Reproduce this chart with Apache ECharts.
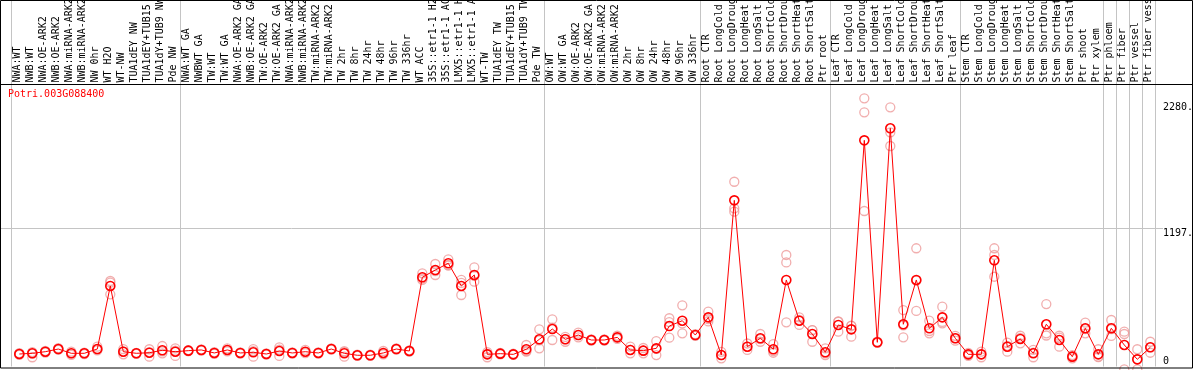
<!DOCTYPE html>
<html>
<head>
<meta charset="utf-8">
<script src="https://cdn.jsdelivr.net/npm/echarts@6/dist/echarts.min.js"></script>
<style>
  html, body { margin: 0; padding: 0; background: #fff; }
  #chart { width: 1194px; height: 370px; }
</style>
</head>
<body>
<div id="chart"></div>
<script>
var geneId = 'Potri.003G088400';

var samples = [
  'NWA:WT', 'NWB:WT', 'NWA:OE-ARK2', 'NWB:OE-ARK2', 'NWA:miRNA-ARK2', 'NWB:miRNA-ARK2',
  'NW 0hr', 'WT H2O', 'WT-NW', 'TUA1dEY NW', 'TUA1dEY+TUB15 NW', 'TUA1dY+TUB9 NW', 'Pde NW',
  'NWA:WT GA', 'NWBWT GA', 'TW:WT', 'TW:WT GA', 'NWA:OE-ARK2 GA', 'NWB:OE-ARK2 GA',
  'TW:OE-ARK2', 'TW:OE-ARK2 GA', 'NWA:miRNA-ARK2 GA', 'NWB:miRNA-ARK2 GA', 'TW:miRNA-ARK2',
  'TW:miRNA-ARK2 GA', 'TW 2hr', 'TW 8hr', 'TW 24hr', 'TW 48hr', 'TW 96hr', 'TW 336hr',
  'WT ACC', '35S::etr1-1 H2O', '35S::etr1-1 ACC', 'LMX5::etr1-1 H2O', 'LMX5::etr1-1 ACC',
  'WT-TW', 'TUA1dEY TW', 'TUA1dEY+TUB15 TW', 'TUA1dY+TUB9 TW', 'Pde TW',
  'OW:WT', 'OW:WT GA', 'OW:OE-ARK2', 'OW:OE-ARK2 GA', 'OW:miRNA-ARK2', 'OW:miRNA-ARK2 GA',
  'OW 2hr', 'OW 8hr', 'OW 24hr', 'OW 48hr', 'OW 96hr', 'OW 336hr',
  'Root CTR', 'Root LongCold', 'Root LongDrought', 'Root LongHeat', 'Root LongSalt',
  'Root ShortCold', 'Root ShortDrought', 'Root ShortHeat', 'Root ShortSalt', 'Ptr root',
  'Leaf CTR', 'Leaf LongCold', 'Leaf LongDrought', 'Leaf LongHeat', 'Leaf LongSalt',
  'Leaf ShortCold', 'Leaf ShortDrought', 'Leaf ShortHeat', 'Leaf ShortSalt', 'Ptr leaf',
  'Stem CTR', 'Stem LongCold', 'Stem LongDrought', 'Stem LongHeat', 'Stem LongSalt',
  'Stem ShortCold', 'Stem ShortDrought', 'Stem ShortHeat', 'Stem ShortSalt', 'Ptr shoot',
  'Ptr xylem', 'Ptr phloem', 'Ptr fiber', 'Ptr vessel', 'Ptr fiber vessel'
];

// index of the first sample of each group (last entry = end of the last group)
var groupStarts = [0, 13, 41, 53, 63, 73, 84, 85, 86, 87, 88];

var meanValues = [
  108, 114, 128, 151, 114, 114, 151, 696, 128, 114, 119, 140, 128,
  137, 143, 117, 143, 117, 123, 108, 134, 117, 128, 117, 151, 114, 97, 97, 117, 151, 134,
  771, 834, 892, 696, 791, 105, 111, 105, 149, 235,
  324, 235, 272, 229, 229, 252, 143, 137, 157, 350, 396, 272,
  425, 99, 1436, 171, 244, 149, 748, 396, 281, 123,
  359, 321, 1955, 209, 2059, 365, 748, 330, 425, 244,
  105, 105, 918, 171, 238, 114, 365, 229, 85, 330,
  105, 330, 186, 62, 166
];

var rep1 = [
  100, 80, 120, 145, 100, 108, 140, 739, 105, 110, 85, 114, 91,
  132, 138, 110, 130, 112, 85, 103, 91, 112, 115, 112, 146, 85, 92, 92, 105, 146, 128,
  805, 886, 926, 748, 857, 80, 105, 100, 128, 321,
  408, 214, 252, 224, 224, 238, 114, 114, 99, 417, 529, 265,
  390, 71, 1597, 143, 214, 119, 964, 359, 214, 99,
  387, 353, 2318, 204, 2240, 488, 1022, 396, 517, 223,
  93, 80, 1022, 128, 200, 80, 540, 171, 71, 287,
  85, 402, 301, 149, 214
];

var rep2 = [
  110, 112, 128, 151, 114, 114, 150, 725, 130, 114, 125, 130, 136,
  137, 143, 117, 143, 117, 133, 108, 145, 117, 126, 117, 151, 125, 97, 97, 112, 151, 134,
  748, 791, 875, 618, 733, 110, 111, 105, 134, 157,
  229, 235, 272, 229, 229, 252, 143, 137, 220, 249, 287, 272,
  410, 99, 1367, 171, 237, 134, 900, 402, 315, 113,
  301, 258, 2197, 209, 2024, 252, 480, 287, 373, 244,
  105, 105, 964, 179, 248, 119, 287, 250, 85, 324,
  81, 264, 281, -24, 119
];

var rep3 = [
  115, 125, 135, 158, 128, 120, 171, 624, 150, 118, 149, 177, 157,
  142, 148, 124, 157, 122, 151, 113, 166, 122, 143, 122, 156, 132, 102, 102, 134, 156, 140,
  760, 825, 875, 722, 783, 125, 117, 110, 186, 227,
  335, 256, 292, 234, 234, 266, 172, 160, 152, 384, 372, 279,
  474, 127, 1338, 199, 281, 194, 382, 425, 314, 157,
  389, 352, 1344, 214, 1906, 355, 742, 307, 385, 265,
  117, 128, 776, 206, 266, 143, 268, 266, 99, 379,
  149, 324, -24, 61, 165
];

var yLabelValues = [1197, 2280];

// pixel layout of the original plot
var colWidth = 13;
var firstColLeft = 11;
var pointInCol = 8.3;
var plotLeft = 1, plotRight = 1163;

var xMin = (plotLeft - firstColLeft - pointInCol) / colWidth;
var xMax = (plotRight - firstColLeft - pointInCol) / colWidth;

var meanData = meanValues.map((v, i) => [i, v]);
var repData = [];
[rep1, rep2, rep3].forEach(reps => reps.forEach((v, i) => repData.push([i, v])));

var markData = groupStarts.map(g => ({ xAxis: g - (pointInCol - 0.5) / colWidth }));
markData.push({ yAxis: 1197 });

var monoFont = 'DejaVu Sans Mono';

var chart = echarts.init(document.getElementById('chart'), null, { renderer: 'canvas' });
chart.setOption({
  animation: false,
  backgroundColor: '#fff',
  title: {
    text: geneId,
    left: 8,
    top: 89,
    padding: 0,
    textStyle: { color: '#ff0000', fontFamily: monoFont, fontSize: 10, fontWeight: 'normal' }
  },
  grid: [
    { left: firstColLeft, width: colWidth * samples.length, top: 84.5, height: 280, outerBoundsMode: 'none' },
    { left: plotLeft, right: 1194 - plotRight, top: 0, bottom: 3.5, outerBoundsMode: 'none' }
  ],
  xAxis: [
    {
      type: 'category',
      gridIndex: 0,
      position: 'top',
      data: samples,
      axisLine: { show: false },
      axisTick: { show: false },
      splitLine: { show: false },
      axisLabel: {
        interval: 0,
        rotate: 90,
        margin: 2,
        color: '#000',
        fontFamily: monoFont,
        fontSize: 10
      }
    },
    {
      type: 'value',
      gridIndex: 1,
      min: xMin,
      max: xMax,
      show: false
    }
  ],
  yAxis: [
    { type: 'value', gridIndex: 0, show: false },
    {
      type: 'value',
      gridIndex: 1,
      position: 'right',
      min: 0,
      max: 3168,
      axisLine: { show: false },
      axisTick: { show: false },
      splitLine: { show: false },
      axisLabel: {
        customValues: yLabelValues,
        formatter: v => v + '.',
        margin: 0,
        align: 'left',
        verticalAlign: 'top',
        color: '#000',
        fontFamily: monoFont,
        fontSize: 10
      }
    },
    {
      type: 'value',
      gridIndex: 1,
      position: 'right',
      min: 0,
      max: 3168,
      axisLine: { show: false },
      axisTick: { show: false },
      splitLine: { show: false },
      axisLabel: {
        customValues: [0],
        margin: 0,
        align: 'left',
        verticalAlign: 'bottom',
        color: '#000',
        fontFamily: monoFont,
        fontSize: 10
      }
    }
  ],
  series: [
    {
      name: 'replicates',
      type: 'scatter',
      xAxisIndex: 1,
      yAxisIndex: 1,
      data: repData,
      clip: false,
      symbol: 'circle',
      symbolSize: 9,
      silent: true,
      itemStyle: { color: 'rgba(0,0,0,0)', borderColor: '#ee9a9a', borderWidth: 1.3 },
      z: 2
    },
    {
      name: 'mean',
      type: 'line',
      xAxisIndex: 1,
      yAxisIndex: 1,
      data: meanData,
      symbol: 'circle',
      symbolSize: 9,
      showAllSymbol: true,
      silent: true,
      lineStyle: { color: '#ff0000', width: 1 },
      itemStyle: { color: 'rgba(0,0,0,0)', borderColor: '#ff0000', borderWidth: 1.6 },
      markLine: {
        silent: true,
        symbol: ['none', 'none'],
        label: { show: false },
        lineStyle: { color: '#c4c4c4', width: 1, type: 'solid' },
        data: markData,
        z: 1
      },
      z: 3
    }
  ],
  graphic: [
    {
      type: 'rect',
      shape: { x: 0.5, y: 0.5, width: 1192, height: 367.5 },
      style: { fill: 'none', stroke: '#000', lineWidth: 1 },
      silent: true,
      z: 10
    },
    {
      type: 'line',
      shape: { x1: 0, y1: 84.5, x2: 1193, y2: 84.5 },
      style: { stroke: '#000', lineWidth: 1 },
      silent: true,
      z: 10
    }
  ]
});
</script>
</body>
</html>
